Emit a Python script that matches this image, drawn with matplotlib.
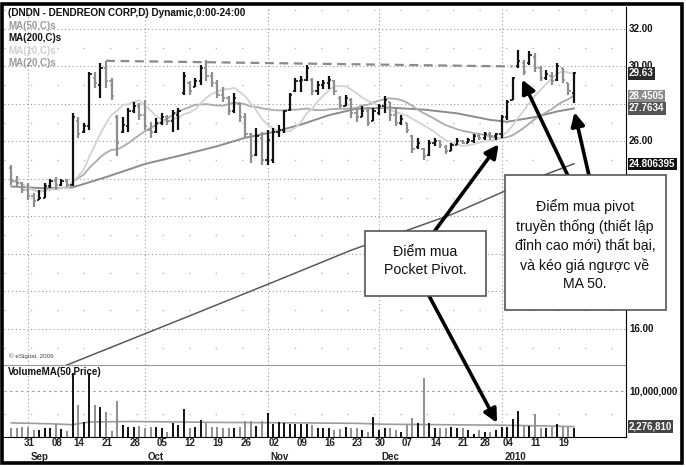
import matplotlib
matplotlib.use('Agg')
import matplotlib.pyplot as plt
import numpy as np
import pandas as pd
from matplotlib.patches import Rectangle, ConnectionPatch
from matplotlib.transforms import blended_transform_factory

plt.rcParams['font.family'] = ['Liberation Sans', 'DejaVu Sans']

# ---------------- data ----------------
bar_idx = list(range(-2, 100))   # trading-day index, 0 = 31 Aug 2009

highs = [24.75, 24.15, 23.85, 23.8, 23.25, 23.4, 23.8, 24.0, 24.1, 24.0, 24.0,
         27.5, 27.3, 27.0, 29.7, 29.7, 30.2, 30.3, 29.4, 27.4, 27.3, 27.8,
         28.1, 28.05, 28.2, 27.05, 27.25, 27.5, 27.4, 27.7, 27.8, 29.7, 29.2,
         29.4, 30.1, 30.35, 29.7, 29.3, 28.9, 28.4, 28.6, 28.05, 27.5, 26.45,
         26.7, 26.5, 26.6, 26.7, 26.9, 27.7, 28.6, 29.4, 29.5, 30.1, 29.4,
         29.2, 29.3, 29.5, 29.3, 28.4, 28.5, 28.3, 27.8, 27.9, 27.85, 27.8,
         28.0, 28.4, 28.1, 27.85, 27.4, 27.0, 26.35, 26.2, 25.65, 26.1, 26.2,
         26.1, 25.8, 25.9, 26.2, 26.1, 26.2, 26.4, 26.4, 26.5, 26.5, 26.45,
         27.4, 28.2, 29.45, 30.9, 30.35, 30.8, 30.7, 30.0, 29.8, 29.7, 30.2,
         29.9, 29.1, 29.7]
lows = [23.7, 23.6, 23.25, 22.9, 22.5, 22.9, 23.0, 23.5, 23.4, 23.6, 23.55,
        23.6, 26.2, 26.45, 26.6, 28.85, 28.3, 28.85, 28.2, 25.2, 26.45, 26.5,
        27.5, 27.15, 26.6, 26.2, 26.45, 26.9, 26.9, 26.5, 26.6, 28.5, 28.5,
        28.9, 29.0, 29.2, 28.9, 28.3, 28.1, 27.4, 27.5, 27.05, 26.2, 24.85,
        25.2, 24.75, 24.75, 24.85, 26.25, 26.45, 27.6, 28.65, 28.65, 29.2,
        28.5, 28.5, 28.8, 28.8, 28.5, 27.8, 27.9, 27.25, 27.05, 27.3, 26.8,
        27.1, 27.4, 27.5, 27.1, 26.8, 26.9, 26.45, 25.4, 25.6, 25.0, 25.2,
        25.75, 25.65, 25.35, 25.5, 25.8, 25.85, 25.9, 25.9, 26.1, 26.1, 26.1,
        26.1, 26.2, 27.15, 28.2, 29.9, 29.55, 30.1, 29.7, 29.2, 29.3, 29.0,
        29.2, 29.1, 28.5, 28.05]
opens = [24.6, 23.9, 23.8, 23.4, 23.1, 22.9, 23.0, 23.6, 23.9, 23.7, 23.9,
         23.7, 27.1, 26.5, 26.8, 29.4, 29.0, 29.9, 29.2, 27.3, 26.5, 26.8,
         27.6, 27.9, 27.4, 26.6, 26.5, 27.0, 27.3, 27.1, 27.4, 28.6, 29.1,
         28.9, 29.2, 29.9, 29.5, 29.1, 28.5, 28.3, 27.6, 28.0, 27.3, 26.4,
         25.3, 26.2, 25.0, 25.0, 26.5, 26.6, 27.7, 28.7, 29.2, 29.3, 29.3,
         28.7, 29.0, 29.1, 29.2, 28.3, 27.9, 28.2, 27.5, 27.3, 27.6, 27.1,
         27.5, 27.9, 28.1, 27.4, 27.0, 27.0, 26.3, 25.7, 25.6, 25.3, 25.9,
         26.0, 25.7, 25.5, 25.8, 26.0, 25.9, 26.0, 26.3, 26.2, 26.4, 26.3,
         26.4, 27.3, 28.2, 30.0, 30.2, 30.2, 30.5, 29.9, 29.4, 29.5, 29.3,
         29.9, 29.1, 28.6]
closes = [23.9, 23.8, 23.4, 23.1, 22.8, 23.0, 23.6, 23.9, 23.7, 23.9, 23.7,
          27.3, 26.4, 26.8, 29.6, 29.1, 29.9, 29.2, 28.4, 25.9, 26.9, 27.6,
          27.9, 27.4, 26.8, 26.5, 27.0, 27.3, 27.1, 27.5, 27.6, 29.5, 28.7,
          29.2, 29.9, 29.5, 29.1, 28.5, 28.3, 27.6, 28.3, 27.3, 26.4, 25.2,
          26.3, 25.0, 26.1, 26.5, 26.6, 27.6, 28.5, 29.2, 29.3, 29.9, 28.7,
          29.0, 29.1, 29.3, 28.7, 27.9, 28.3, 27.5, 27.3, 27.6, 27.0, 27.6,
          27.9, 28.2, 27.4, 27.0, 27.2, 26.6, 25.6, 25.9, 25.2, 25.9, 26.0,
          25.8, 25.5, 25.8, 26.0, 25.9, 26.1, 26.3, 26.2, 26.4, 26.3, 26.4,
          27.3, 28.1, 29.4, 30.3, 29.7, 30.6, 29.9, 29.4, 29.6, 29.2, 30.0,
          29.3, 28.7, 29.63]
volumes_m = [2.0, 2.0, 2.3, 2.3, 1.6, 1.6, 2.0, 2.0, 2.9, 1.8, 1.4, 14.0, 7.1,
             3.4, 14.0, 7.1, 6.6, 5.4, 1.3, 7.8, 2.7, 2.3, 2.2, 2.5, 2.0, 2.2,
             2.1, 2.0, 1.2, 3.1, 2.7, 6.1, 2.0, 2.1, 3.8, 3.0, 2.3, 2.2, 2.0,
             2.0, 2.0, 2.3, 3.6, 3.6, 2.5, 3.6, 5.3, 2.9, 3.2, 3.1, 2.9, 2.9,
             2.8, 2.8, 2.6, 2.0, 2.0, 2.0, 1.6, 1.8, 2.3, 2.0, 2.0, 1.6, 1.2,
             4.4, 1.6, 2.0, 2.0, 1.6, 1.2, 2.7, 4.2, 3.1, 12.9, 3.1, 2.0, 2.0,
             2.0, 2.1, 2.0, 2.0, 1.6, 0.7, 1.5, 1.2, 1.2, 1.6, 2.3, 2.3, 3.9,
             5.8, 2.5, 2.5, 5.0, 2.0, 2.0, 2.3, 2.9, 2.3, 2.3, 2.0]

# moving averages that need history before the chart
ma50_idx = [-2, 4, 9, 15, 22, 29, 35, 40, 45, 50, 55, 60, 66, 72, 78, 84, 87, 92, 96, 99]
ma50_val = [23.6, 23.5, 23.55, 24.1, 24.8, 25.3, 25.75, 26.2, 26.5, 26.9, 27.4,
            27.75, 27.8, 27.7, 27.5, 27.15, 27.05, 27.3, 27.6, 27.76]
ma200_idx = [-3, 9, 30, 45, 59, 77, 90, 99]
ma200_val = [12.8, 14.2, 16.7, 18.5, 20.2, 22.1, 23.8, 24.81]
vma_idx = [-2, 5, 9, 12, 20, 35, 50, 60, 65, 75, 86, 95, 99]
vma_val = [3.1, 2.9, 2.7, 3.3, 3.4, 3.2, 3.1, 3.0, 2.8, 2.7, 2.6, 2.4, 2.28]

pivot_idx = [15, 88]
pivot_val = [30.3, 30.0]

# price labels visible on the right axis (others are hidden by boxes)
price_ticks = [32, 30, 26, 16]
price_tick_labels = ['32.00', '30.00', '26.00', '16.00']
last_labels = ['29.63', '28.4505', '27.7634', '24.806395', '2,276,810']
day_label_idx = [0, 5, 9, 14, 19, 24, 29, 34, 39, 44, 49, 54, 59, 63, 68, 73, 78, 82, 86, 91, 96]
day_labels = ['31', '08', '14', '21', '28', '05', '12', '19', '26', '02', '09', '16',
              '23', '30', '07', '14', '21', '28', '04', '11', '19']
month_idx = [1, 22, 44, 64, 86]
month_labels = ['Sep', 'Oct', 'Nov', 'Dec', '2010']

# ---------------- layout ----------------
W, H = 686, 467
fig = plt.figure(figsize=(W / 100, H / 100), dpi=100)
fig.patch.set_facecolor('white')


def fx(x):
    return x / W


def fy(y):
    return 1 - y / H


ax = fig.add_axes([fx(4), fy(365), fx(626) - fx(4), fy(7) - fy(365)])
axv = fig.add_axes([fx(4), fy(437), fx(626) - fx(4), fy(365) - fy(437)])
for a in (ax, axv):
    a.set_facecolor('none')
    a.set_xlim(-3.32, 108.35)
    a.set_xticks([])
    a.set_yticks([])
    for s in a.spines.values():
        s.set_visible(False)
ax.set_ylim(14.08, 33.17)
axv.set_ylim(0, 15.8)
ax.spines['right'].set_visible(True)
ax.spines['right'].set_color('black')
ax.spines['bottom'].set_visible(True)
ax.spines['bottom'].set_color('#9a9a9a')
axv.spines['right'].set_visible(True)
axv.spines['bottom'].set_visible(True)
axv.spines['right'].set_color('black')
axv.spines['bottom'].set_color('black')

# grid
for p in range(16, 34, 2):
    ax.axhline(p, color='#9a9a9a', lw=0.8, ls=(0, (1, 2.4)), zorder=1)
for p in range(15, 34, 2):
    ax.axhline(p, color='#bbbbbb', lw=1.0, ls=(0, (1, 18)), zorder=1)
for m in month_idx:
    ax.axvline(m, color='#9a9a9a', lw=0.8, ls=(0, (1, 2.4)), zorder=1)
    axv.axvline(m, color='#9a9a9a', lw=0.8, ls=(0, (1, 2.4)), zorder=1)
axv.axhline(10, color='#9a9a9a', lw=0.8, ls=(0, (2, 3)), zorder=1)
axv.axhline(5, color='#bbbbbb', lw=1.0, ls=(0, (1, 18)), zorder=1)

# moving averages
cl = pd.Series(closes, index=bar_idx)
ma10 = cl.rolling(10, min_periods=1).mean()
ma20 = cl.rolling(20, min_periods=1).mean()
ax.plot(ma200_idx, ma200_val, color='#5a5a5a', lw=1.1, zorder=2)
ax.plot(ma50_idx, ma50_val, color='#8c8c8c', lw=1.4, zorder=2)
ax.plot(bar_idx, ma20.values, color='#ababab', lw=1.3, zorder=2)
ax.plot(bar_idx, ma10.values, color='#d2d2d2', lw=1.3, zorder=2)

# pivot dashed line
ax.plot(pivot_idx, pivot_val, color='#8a8a8a', lw=1.6, ls=(0, (4, 2.5)), zorder=2)

# bars
prev = [opens[0]] + closes[:-1]
cols = ['#111111' if c >= pc else '#8e8e8e' for c, pc in zip(closes, prev)]
idx = np.array(bar_idx, dtype=float)
ax.vlines(idx, lows, highs, colors=cols, lw=1.6, zorder=3)
ax.hlines(opens, idx - 0.4, idx, colors=cols, lw=1.2, zorder=3)
ax.hlines(closes, idx, idx + 0.4, colors=cols, lw=1.2, zorder=3)

# volume
axv.vlines(idx, 0, volumes_m, colors=cols, lw=1.4, zorder=3)
axv.plot(vma_idx, vma_val, color='#9c9c9c', lw=1.2, zorder=2)

# right axis labels
tp = blended_transform_factory(ax.transAxes, ax.transData)
tv = blended_transform_factory(axv.transAxes, axv.transData)
lx = 1.0 + 3 / 622
for v, s in zip(price_ticks, price_tick_labels):
    ax.text(lx, v, s, transform=tp, ha='left', va='center', fontsize=7,
            fontweight='bold', color='#111111', clip_on=False)
axv.text(lx, 10, '10,000,000', transform=tv, ha='left', va='center', fontsize=7,
         fontweight='bold', color='#111111', clip_on=False)


def hl(axis, tr, v, s, fc):
    axis.text(lx, v, s, transform=tr, ha='left', va='center', fontsize=7,
              fontweight='bold', color='white', clip_on=False,
              bbox=dict(boxstyle='square,pad=0.12', fc=fc, ec='none'))


hl(ax, tp, closes[-1], last_labels[0], '#2a2a2a')
hl(ax, tp, ma20.values[-1], last_labels[1], '#8a8a8a')
hl(ax, tp, ma50_val[-1], last_labels[2], '#555555')
hl(ax, tp, ma200_val[-1], last_labels[3], '#111111')
hl(axv, tv, vma_val[-1], last_labels[4], '#444444')

# x labels
tx = blended_transform_factory(axv.transData, fig.transFigure)
for i, s in zip(day_label_idx, day_labels):
    axv.text(i + 0.15, fy(443), s, transform=tx, ha='left', va='center', fontsize=7,
             fontweight='bold', color='#222222', clip_on=False)
for i, s in zip(month_idx, month_labels):
    axv.text(i + 0.5, fy(457), s, transform=tx, ha='left', va='center', fontsize=7,
             fontweight='bold', color='#222222', clip_on=False)

# header texts
fig.text(fx(8), fy(13), '(DNDN - DENDREON CORP,D) Dynamic,0:00-24:00', fontsize=7.2,
         fontweight='bold', color='#111111', va='center', ha='left')
fig.text(fx(8), fy(26), 'MA(50,C)s', fontsize=7, fontweight='bold', color='#9a9a9a', va='center')
fig.text(fx(8), fy(38), 'MA(200,C)s', fontsize=7, fontweight='bold', color='#111111', va='center')
fig.text(fx(8), fy(51), 'MA(10,C)s', fontsize=7, fontweight='bold', color='#cfcfcf', va='center')
fig.text(fx(8), fy(63), 'MA(20,C)s', fontsize=7, fontweight='bold', color='#9a9a9a', va='center')
fig.text(fx(9), fy(356), '© eSignal, 2009', fontsize=4.5, color='#444444', va='center')
fig.text(fx(8), fy(372), 'VolumeMA(50,Price)', fontsize=7, fontweight='bold', color='#111111', va='center')

# arrows


def arrow(tail, head, head_ax):
    cp = ConnectionPatch(xyA=(fx(tail[0]), fy(tail[1])), coordsA='figure fraction',
                         xyB=head, coordsB='data', axesB=head_ax,
                         arrowstyle='-|>', mutation_scale=20, lw=2.6, color='black',
                         shrinkA=0, shrinkB=0, zorder=4)
    fig.add_artist(cp)


arrow((431, 236), (85.5, 25.85), ax)
arrow((427, 292), (85.2, 3.1), axv)
arrow((570, 180), (89.7, 29.3), ax)
arrow((590, 180), (99.1, 27.56), ax)

# annotation boxes
fig.add_artist(Rectangle((fx(365), fy(296)), fx(486) - fx(365), fy(231) - fy(296),
                         transform=fig.transFigure, fc='white', ec='#555555', lw=1.2, zorder=5))
fig.add_artist(Rectangle((fx(505), fy(310)), fx(666) - fx(505), fy(175) - fy(310),
                         transform=fig.transFigure, fc='white', ec='#555555', lw=1.2, zorder=5))
fig.text(fx(425.5), fy(261), 'Điểm mua\nPocket Pivot.', ha='center', va='center',
         fontsize=10.2, linespacing=1.4, color='#111111', zorder=6)
fig.text(fx(585), fy(245), 'Điểm mua pivot\ntruyền thống (thiết lập\nđỉnh cao mới) thất bại,\nvà kéo giá ngược về\nMA 50.',
         ha='center', va='center', fontsize=10.2, linespacing=1.4, color='#111111', zorder=6)

# outer frame
fig.add_artist(Rectangle((fx(2), fy(463)), fx(682) - fx(2), fy(4) - fy(463),
                         transform=fig.transFigure, fc='none', ec='black', lw=2.6, zorder=7))

fig.savefig('out.png', dpi=100, facecolor='white')
